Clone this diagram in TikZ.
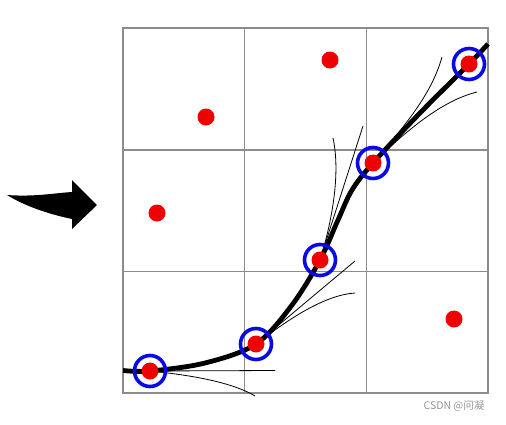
\documentclass[tikz,border=0pt]{standalone}
\usepackage{fontspec}
\newfontfamily\cjk{Noto Sans CJK SC}
\definecolor{gridgray}{RGB}{140,140,140}
\definecolor{dotred}{RGB}{240,0,0}
\definecolor{ringblue}{RGB}{10,10,230}
\definecolor{markgray}{RGB}{150,150,150}
\tikzset{
  gridline/.style={draw=gridgray, line width=1.1pt},
  reddot/.style={circle, fill=dotred, inner sep=0pt, minimum size=17pt},
  ring/.style={circle, draw=ringblue, line width=3.6pt, inner sep=0pt, minimum size=31pt},
  curveline/.style={line width=4.8pt, line join=round},
  tangent/.style={line width=0.8pt},
}
\begin{document}
\begin{tikzpicture}[x=1pt,y=-1pt]
\useasboundingbox[fill=white] (0,0) rectangle (506,424);
% grid
\draw[gridline] (123,28) rectangle (488,393);
\draw[gridline] (244.7,28) -- (244.7,393);
\draw[gridline] (366.3,28) -- (366.3,393);
\draw[gridline] (123,150) -- (488,150);
\draw[gridline] (123,271.5) -- (488,271.5);
% on-curve points
\coordinate (p1) at (150,371);
\coordinate (p2) at (256,344);
\coordinate (p3) at (320,260);
\coordinate (p4) at (373,163);
\coordinate (p5) at (469,64);
% tangent lines
\draw[tangent] (p1) -- (275,370.5);
\draw[tangent] (p1) .. controls (200,376) and (235,384) .. (255,396);
\draw[tangent] (p2) -- (355,261);
\draw[tangent] (p2) .. controls (290,318) and (325,295) .. (355,293);
\draw[tangent] (p3) -- (363,126);
\draw[tangent] (p3) .. controls (334,215) and (340,170) .. (333,138);
\draw[tangent] (p4) .. controls (410,120) and (432,92) .. (442,57);
\draw[tangent] (p4) .. controls (412,125) and (445,100) .. (477,92);
% main curve
\draw[curveline] plot[smooth, tension=0.55] coordinates {(123,370.5) (150,371) (205,363) (256,344) (292,305) (320,260) (338,220) (352,190) (373,163) (420,113) (469,64) (488,44)};
% red dots
\node[reddot] (d1) at (p1) {};
\node[reddot] (d2) at (p2) {};
\node[reddot] (d3) at (p3) {};
\node[reddot] (d4) at (p4) {};
\node[reddot] (d5) at (p5) {};
\node[reddot] (d6) at (206,117) {};
\node[reddot] (d7) at (330,60) {};
\node[reddot] (d8) at (157,213) {};
\node[reddot] (d9) at (454,319) {};
% blue rings
\node[ring] (r1) at (p1) {};
\node[ring] (r2) at (p2) {};
\node[ring] (r3) at (p3) {};
\node[ring] (r4) at (p4) {};
\node[ring] (r5) at (p5) {};
% arrow
\fill[black] (7,195) .. controls (35,197) and (55,193) .. (72,192) -- (72,180) -- (97,205) -- (72,229) -- (72,219) .. controls (48,214) and (25,206) .. (7,195) -- cycle;
% watermark
\node[text=markgray, font=\cjk\fontsize{10.5pt}{12pt}\selectfont, anchor=center] (wm) at (454,406) {CSDN @问凝};
\end{tikzpicture}
\end{document}
